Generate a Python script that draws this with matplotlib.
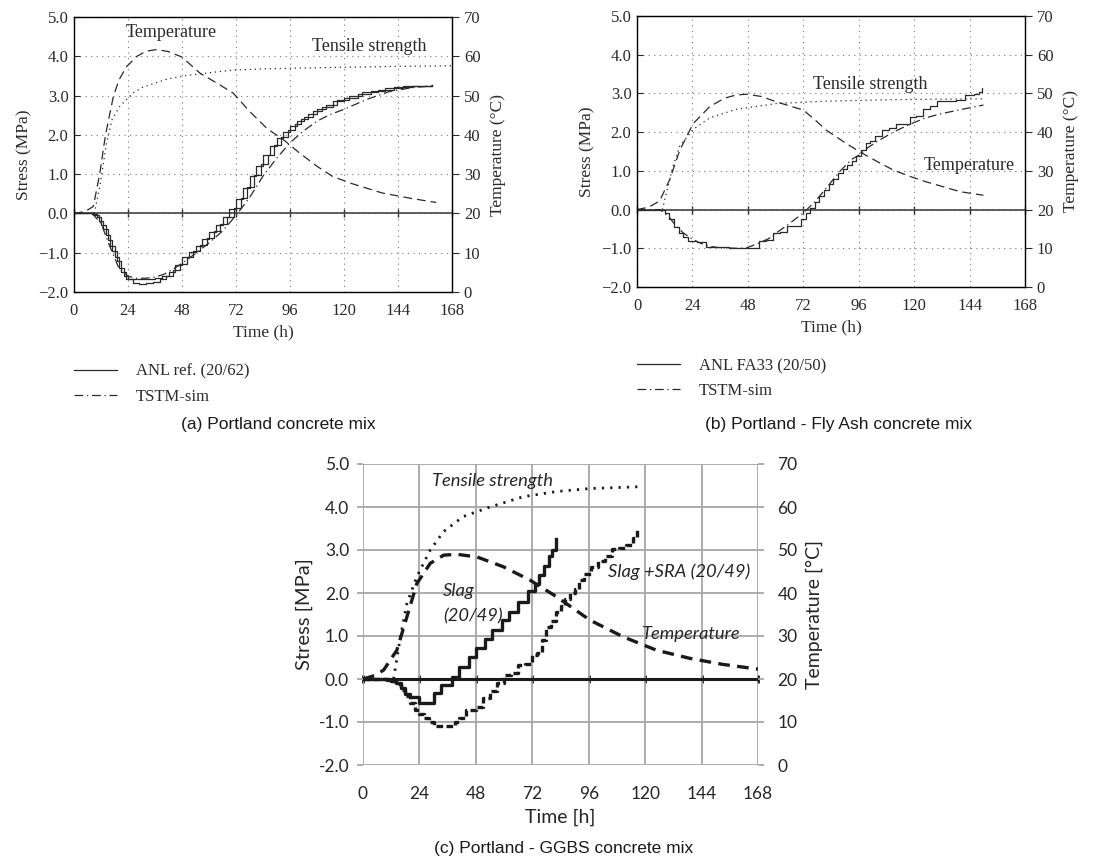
import matplotlib
matplotlib.use("Agg")
import matplotlib.pyplot as plt
import numpy as np

# ---------------- data ----------------
hours = [0, 24, 48, 72, 96, 120, 144, 168]
stress_ticks = [-2, -1, 0, 1, 2, 3, 4, 5]
temp_ticks = [0, 10, 20, 30, 40, 50, 60, 70]

# Panel (a) Portland
a_temp_t = [0, 5, 8.6, 11.5, 14, 17.5, 20, 23.4, 28, 32, 36.7, 42, 48, 56, 64, 70.8, 78, 86, 93, 100, 108, 115, 124, 137, 150, 161]
a_temp = [20, 20.5, 21.8, 30.3, 40, 49.8, 54, 57.4, 60, 61.3, 61.7, 61.2, 59.8, 55.7, 53, 50.6, 46, 41.5, 38.8, 35.5, 32, 29.4, 27.5, 25.2, 23.8, 22.8]
a_ft_t = [9, 11.5, 14.5, 17, 20.4, 26.3, 30, 36.7, 42, 50, 60, 70.8, 85, 100, 120, 140, 168]
a_ft = [0, 0.7, 1.8, 2.4, 2.73, 3.07, 3.2, 3.33, 3.43, 3.51, 3.58, 3.65, 3.68, 3.7, 3.72, 3.74, 3.76]
a_anl_t = [0, 6, 8, 10, 12, 14, 16, 18, 20, 22, 24, 27, 30, 33, 36, 39, 42, 45, 48, 51, 54, 57, 60, 63, 66, 69, 72, 75, 78, 81, 84, 87, 90, 93, 96, 99, 102, 106, 110, 115, 120, 126, 132, 138, 146, 152, 159]
a_anl = [0, 0, -0.02, -0.1, -0.3, -0.55, -0.83, -1.1, -1.38, -1.58, -1.68, -1.68, -1.67, -1.66, -1.65, -1.6, -1.48, -1.3, -1.12, -0.97, -0.82, -0.64, -0.46, -0.3, -0.1, 0.12, 0.38, 0.65, 0.95, 1.22, 1.48, 1.72, 1.92, 2.08, 2.22, 2.35, 2.46, 2.6, 2.72, 2.85, 2.95, 3.05, 3.12, 3.2, 3.24, 3.25, 3.26]
a_anl2_t = [0, 7, 9, 11, 13, 15, 17, 19, 21, 23, 26, 29, 32, 35, 38, 41, 44, 47, 50, 53, 56, 59, 62, 65, 68, 71, 74, 77, 80, 83, 86, 89, 92, 95, 98, 101, 104, 108, 112, 117, 122, 128, 135, 142, 150, 159]
a_anl2 = [0, 0, -0.05, -0.18, -0.4, -0.68, -0.95, -1.22, -1.48, -1.66, -1.76, -1.79, -1.78, -1.74, -1.68, -1.6, -1.45, -1.28, -1.12, -0.96, -0.8, -0.62, -0.45, -0.28, -0.08, 0.15, 0.4, 0.68, 0.98, 1.25, 1.5, 1.75, 1.95, 2.12, 2.27, 2.4, 2.52, 2.65, 2.75, 2.88, 2.98, 3.08, 3.15, 3.22, 3.25, 3.27]
a_sim_t = [0, 8, 12, 16, 20, 24, 28, 32, 36, 40, 44, 48, 54, 60, 66, 72, 78, 84, 90, 96, 102, 108, 114, 120, 130, 140, 150, 160]
a_sim = [0, 0, -0.25, -0.85, -1.4, -1.6, -1.65, -1.65, -1.62, -1.55, -1.42, -1.27, -1.02, -0.75, -0.45, -0.05, 0.4, 0.95, 1.4, 1.8, 2.1, 2.35, 2.52, 2.65, 2.9, 3.1, 3.2, 3.25]

# Panel (b) Portland - Fly Ash
b_temp_t = [0, 5, 9.8, 14.2, 18.5, 24.3, 31.5, 38, 43, 47.4, 54, 60.4, 66, 72, 77, 82, 90, 96.5, 104, 111, 118, 125, 132, 140, 150]
b_temp = [20, 20.6, 22.2, 27.8, 35.3, 42.2, 46.6, 48.8, 49.6, 49.8, 49.2, 47.8, 46.8, 45.7, 43.2, 40.5, 37.3, 34.9, 32.4, 30.2, 28.6, 27.2, 26, 24.6, 23.7]
b_ft_t = [11, 13, 15.6, 18.5, 24.3, 31.5, 43, 60.4, 82, 111, 150]
b_ft = [0, 0.5, 1.12, 1.64, 2.07, 2.37, 2.59, 2.74, 2.8, 2.84, 2.86]
b_anl_t = [0, 8, 10, 12, 14, 16, 18, 20, 22, 26, 30, 40, 50, 53, 56, 59, 62, 65, 68, 71, 73, 75, 77, 79, 81, 83, 85, 87, 89, 91, 93, 95, 97, 99, 101, 103, 106, 109, 112, 115, 118, 121, 124, 127, 130, 134, 138, 142, 146, 148, 149.5]
b_anl = [0, 0, -0.02, -0.1, -0.25, -0.45, -0.6, -0.72, -0.82, -0.84, -0.97, -0.99, -0.98, -0.8, -0.78, -0.6, -0.58, -0.42, -0.42, -0.25, -0.1, 0.05, 0.2, 0.35, 0.5, 0.65, 0.8, 0.95, 1.05, 1.15, 1.25, 1.38, 1.55, 1.72, 1.78, 1.9, 2.05, 2.1, 2.22, 2.22, 2.4, 2.42, 2.6, 2.67, 2.8, 2.8, 2.82, 2.97, 2.98, 3.03, 3.15]
b_sim_t = [0, 10, 14, 17, 20, 24.3, 28, 31.5, 35, 38.7, 43, 47.4, 53, 57, 60.4, 66, 72, 77, 82, 88, 93, 96.5, 100, 103.7, 111, 118, 125, 132, 140, 150]
b_sim = [0, 0, -0.2, -0.43, -0.6, -0.78, -0.88, -0.95, -0.98, -0.99, -1.0, -0.99, -0.86, -0.75, -0.6, -0.36, -0.09, 0.2, 0.56, 1.0, 1.3, 1.42, 1.6, 1.75, 2.0, 2.2, 2.37, 2.48, 2.58, 2.7]

# Panel (c) Portland - GGBS
c_temp_t = [0, 5, 8.8, 14.4, 18.7, 22.9, 28.6, 34.3, 39.9, 48.4, 59.7, 71, 82.4, 96.5, 110.7, 124.8, 139, 153, 168]
c_temp = [20, 20.8, 22.1, 26.7, 34.5, 42.2, 46.9, 48.8, 49.0, 48.4, 46.1, 43, 39.1, 33.7, 29.8, 26.7, 24.8, 23.4, 22.3]
c_ft_t = [13, 15.9, 18.7, 22.9, 28.6, 34.3, 42.7, 54, 68.2, 82.4, 96.5, 117]
c_ft = [0, 0.98, 1.76, 2.38, 3.0, 3.43, 3.78, 4.0, 4.24, 4.36, 4.43, 4.47]
c_slag_t = [0, 8, 10, 12, 14, 16, 18, 20, 24, 30, 33, 36, 38, 41, 45, 48, 52, 55, 59, 62, 66, 70, 73, 75, 77, 79, 80.5, 82]
c_slag = [0, 0, -0.02, -0.05, -0.1, -0.2, -0.35, -0.42, -0.55, -0.33, -0.15, -0.15, 0.05, 0.28, 0.52, 0.72, 0.92, 1.14, 1.37, 1.55, 1.78, 2.05, 2.22, 2.42, 2.62, 2.85, 3.0, 3.25]
c_sra_t = [0, 10, 12, 14, 16, 18, 20, 22, 24, 26, 28, 30, 39, 41, 44, 48, 51, 54, 57, 60, 63, 66, 69, 72, 74, 76, 78, 80, 82, 84, 86, 88, 90, 92, 94, 97, 100, 103, 106, 109, 112, 115, 116.5]
c_sra = [0, 0, -0.05, -0.12, -0.25, -0.4, -0.55, -0.72, -0.82, -0.91, -1.0, -1.1, -1.0, -0.9, -0.72, -0.64, -0.45, -0.28, -0.1, 0.1, 0.15, 0.33, 0.35, 0.55, 0.6, 0.9, 1.2, 1.35, 1.55, 1.7, 1.85, 2.0, 2.1, 2.3, 2.45, 2.6, 2.75, 2.85, 3.02, 3.05, 3.12, 3.27, 3.48]

# ---------------- figure ----------------
W, H = 1105, 859
fig = plt.figure(figsize=(W / 100, H / 100), dpi=100)
SERIF = ["Liberation Serif", "DejaVu Serif"]
SANS = ["Liberation Sans", "DejaVu Sans"]
CAL = ["Lato", "DejaVu Sans"]
INK = "#2a2a2a"


def box(l, t, r, b):
    return [l / W, 1 - b / H, (r - l) / W, (b - t) / H]


def classic_panel(rect, temp_t, temp, ft_t, ft, meas, sim, legend_labels, notes, leg_y):
    ax = fig.add_axes(rect)
    ax.set_xlim(0, 168)
    ax.set_ylim(-2, 5)
    ax.set_xticks(hours)
    ax.set_yticks(stress_ticks)
    ax.set_yticklabels([f"{v:.1f}".replace("-", "\u2212") for v in stress_ticks])
    ax.grid(True, ls=(0, (1, 4)), color="#777777", lw=0.8)
    ax.set_axisbelow(True)
    for s in ax.spines.values():
        s.set_color(INK)
        s.set_linewidth(1.0)
    ax.tick_params(axis="x", length=0, labelsize=12, colors=INK, pad=8)
    ax.tick_params(axis="y", direction="in", length=4, labelsize=12, colors=INK, pad=4)
    for lab in ax.get_xticklabels() + ax.get_yticklabels():
        lab.set_family(SERIF)
    ax.axhline(0, color="#444444", lw=1.2, zorder=2)
    sec = ax.secondary_xaxis(2 / 7)
    sec.set_xticks(hours)
    sec.tick_params(direction="inout", length=6, width=1, colors=INK, labelbottom=False, labeltop=False)
    sec.spines[:].set_visible(False)

    ax2 = ax.twinx()
    ax2.set_ylim(0, 70)
    ax2.set_yticks(temp_ticks)
    ax2.tick_params(axis="y", direction="out", length=5, labelsize=12, colors=INK)
    for lab in ax2.get_yticklabels():
        lab.set_family(SERIF)
    ax2.plot(temp_t, temp, color=INK, lw=0.9, ls=(0, (7, 4)))
    ax2.set_ylabel("Temperature (\u00b0C)", family=SERIF, fontsize=12.5, color=INK, labelpad=7)

    ax.plot(ft_t, ft, color=INK, lw=0.9, ls=(0, (1, 3)))
    handles = []
    for i, (mt, mv) in enumerate(meas):
        h, = ax.plot(mt, mv, color=INK, lw=0.9, drawstyle="steps-post")
        handles.append(h)
    hs, = ax.plot(sim[0], sim[1], color=INK, lw=0.9, ls=(0, (7, 3, 1, 3)))
    ax.set_xlabel("Time (h)", family=SERIF, fontsize=12.5, color=INK, labelpad=4)
    ax.set_ylabel("Stress (MPa)", family=SERIF, fontsize=12.5, color=INK, labelpad=4)
    for (x, y, s) in notes:
        ax.text(x, y, s, family=SERIF, fontsize=13, color=INK, va="center", ha="left")
    leg = ax.legend([handles[0], hs], legend_labels, loc="upper left",
                    bbox_to_anchor=(0.0, leg_y), frameon=False, handlelength=2.6,
                    handletextpad=1.1, borderaxespad=0, borderpad=0, labelspacing=0.55,
                    prop={"family": SERIF, "size": 12})
    for t in leg.get_texts():
        t.set_color(INK)
    return ax


classic_panel(box(74, 17, 452, 292), a_temp_t, a_temp, a_ft_t, a_ft,
              [(a_anl_t, a_anl), (a_anl2_t, a_anl2)], (a_sim_t, a_sim),
              ["ANL ref. (20/62)", "TSTM-sim"],
              [(23, 4.6, "Temperature"), (106, 4.24, "Tensile strength")], -0.26)

classic_panel(box(637, 16, 1025, 287), b_temp_t, b_temp, b_ft_t, b_ft,
              [(b_anl_t, b_anl)], (b_sim_t, b_sim),
              ["ANL FA33 (20/50)", "TSTM-sim"],
              [(76, 3.22, "Tensile strength"), (124, 1.15, "Temperature")], -0.262)

# ---------------- panel (c) ----------------
axc = fig.add_axes(box(363, 464, 758, 765))
axc.set_xlim(0, 168)
axc.set_ylim(-2, 5)
axc.set_xticks(hours)
axc.set_yticks(stress_ticks)
axc.set_yticklabels([f"{v:.1f}" for v in stress_ticks])
axc.grid(True, color="#a6a6a6", lw=1.3)
axc.set_axisbelow(True)
for s in axc.spines.values():
    s.set_visible(False)
axc.tick_params(axis="x", length=0, labelsize=12.5, colors="#262626", pad=15)
axc.tick_params(axis="y", direction="out", length=4, width=1.3, color="#a6a6a6", labelsize=12.5, labelcolor="#262626", pad=6)
for lab in axc.get_xticklabels() + axc.get_yticklabels():
    lab.set_family(CAL)
axc.axhline(0, color="#1a1a1a", lw=2.2, zorder=3)
secc = axc.secondary_xaxis(2 / 7)
secc.set_xticks(hours)
secc.tick_params(direction="inout", length=6, width=2, colors="#1a1a1a", labelbottom=False, labeltop=False)
secc.spines[:].set_visible(False)

axc2 = axc.twinx()
axc2.set_ylim(0, 70)
axc2.set_yticks(temp_ticks)
for s in axc2.spines.values():
    s.set_visible(False)
axc2.tick_params(axis="y", direction="out", length=4, width=1.3, color="#a6a6a6", labelsize=12.5, labelcolor="#262626", pad=10)
for lab in axc2.get_yticklabels():
    lab.set_family(CAL)
axc2.plot(c_temp_t, c_temp, color="#1a1a1a", lw=2.4, ls=(0, (3.5, 2.2)))
axc2.set_ylabel("Temperature [\u00b0C]", family=CAL, fontsize=14, color="#262626", labelpad=6)

axc.plot(c_ft_t, c_ft, color="#1a1a1a", lw=2.0, ls=(0, (0.8, 2.2)))
axc.plot(c_slag_t, c_slag, color="#1a1a1a", lw=2.4, drawstyle="steps-post", zorder=4)
axc.plot(c_sra_t, c_sra, color="#1a1a1a", lw=2.4, drawstyle="steps-post", ls=(0, (2, 1)), zorder=4)
axc.set_xlabel("Time [h]", family=CAL, fontsize=14, color="#262626", labelpad=5)
axc.set_ylabel("Stress [MPa]", family=CAL, fontsize=14.5, color="#262626", labelpad=4)
ital = dict(family=CAL, fontsize=13.2, style="italic", color="#262626", va="center", ha="left")
axc.text(29.4, 4.6, "Tensile strength", **ital)
axc.text(34, 1.75, "Slag\n(20/49)", linespacing=1.75, **ital)
axc.text(104, 2.49, "Slag +SRA (20/49)", **ital)
axc.text(118.7, 1.05, "Temperature", **ital)

# captions
cap = dict(family=SANS, fontsize=12.5, color="#1a1a1a", ha="center", va="center")
fig.text(278 / W, 1 - 424 / H, "(a) Portland concrete mix", **cap)
fig.text(839 / W, 1 - 424 / H, "(b) Portland - Fly Ash concrete mix", **cap)
fig.text(564 / W, 1 - 848 / H, "(c) Portland - GGBS concrete mix", **cap)

fig.savefig("out.png", dpi=100, facecolor="white")
